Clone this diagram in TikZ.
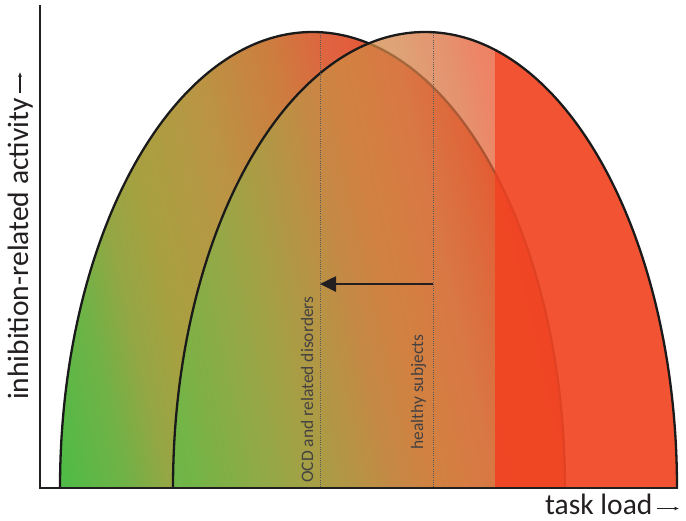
\documentclass[tikz,border=0pt]{standalone}
\usepackage{fontspec}
\setmainfont{Carlito}
\usetikzlibrary{arrows.meta}
\definecolor{txt}{HTML}{231F20}
\definecolor{dotgrey}{HTML}{5A5A5A}
\definecolor{bandred}{RGB}{240,70,36}
\definecolor{outline}{HTML}{1A1A1A}
\pgfdeclarehorizontalshading{leftshade}{100bp}{%
rgb(0bp)=(0.314,0.737,0.275);
rgb(28.75bp)=(0.314,0.733,0.275);
rgb(32.5bp)=(0.439,0.698,0.275);
rgb(35.19bp)=(0.588,0.651,0.267);
rgb(37.75bp)=(0.659,0.627,0.251);
rgb(42.25bp)=(0.725,0.588,0.267);
rgb(47.5bp)=(0.804,0.490,0.247);
rgb(51.25bp)=(0.878,0.384,0.247);
rgb(56.25bp)=(0.918,0.306,0.196);
rgb(60.63bp)=(0.933,0.263,0.137);
rgb(100bp)=(0.933,0.263,0.137)}
\pgfdeclarehorizontalshading{rightshade}{100bp}{%
rgb(0bp)=(0.353,0.745,0.282);
rgb(31.25bp)=(0.353,0.745,0.282);
rgb(36.75bp)=(0.392,0.737,0.290);
rgb(43.69bp)=(0.608,0.655,0.278);
rgb(49.13bp)=(0.761,0.565,0.282);
rgb(51.56bp)=(0.804,0.553,0.259);
rgb(55.19bp)=(0.830,0.520,0.290);
rgb(58.13bp)=(0.860,0.440,0.250);
rgb(60.25bp)=(0.910,0.360,0.200);
rgb(63.75bp)=(0.933,0.294,0.157);
rgb(100bp)=(0.933,0.294,0.157)}
\tikzset{
  archline/.style={draw=outline, line width=2.3pt},
  axisline/.style={draw=txt, line width=2.5pt},
  guide/.style={draw=dotgrey, line width=0.8pt, dash pattern=on 1pt off 1.2pt},
  shiftarrow/.style={draw=txt, line width=2.6pt, -{Triangle[length=16pt,width=15pt]}},
  smallarrow/.style={draw=txt, line width=1.1pt, -{Latex[length=4.5pt,width=4pt]}},
  biglabel/.style={font=\fontsize{29.5}{33}\selectfont, text=txt, inner sep=0pt},
  smalllabel/.style={font=\fontsize{17.5}{20}\selectfont, text=txt!85, inner sep=0pt, rotate=90, anchor=base west}
}
\begin{document}
\begin{tikzpicture}[x=1pt,y=-1pt]
\useasboundingbox[fill=white] (0,0) rectangle (686,520);
% left arch fill
\begin{scope}
  \clip (0,0) rectangle (686,488);
  \clip (312.5,488) ellipse [x radius=252.5, y radius=456];
  \shade[shading=leftshade, shading angle=13] (-40,-140) rectangle (760,660);
\end{scope}
% left arch outline
\begin{scope}
  \clip (0,0) rectangle (686,488);
  \draw[archline] (312.5,488) ellipse [x radius=252.5, y radius=456];
\end{scope}
% right arch fill (translucent gradient part)
\begin{scope}[fill opacity=0.75]
  \clip (0,0) rectangle (495,488);
  \clip (425,488) ellipse [x radius=252, y radius=456];
  \shade[shading=rightshade, shading angle=13] (-40,-140) rectangle (760,660);
\end{scope}
% right arch red band
\begin{scope}
  \clip (495,0) rectangle (686,488);
  \clip (425,488) ellipse [x radius=252, y radius=456];
  \fill[bandred, fill opacity=0.93] (495,0) rectangle (686,488);
\end{scope}
% right arch outline
\begin{scope}
  \clip (0,0) rectangle (686,488);
  \draw[archline] (425,488) ellipse [x radius=252, y radius=456];
\end{scope}
% guide lines
\coordinate (ocdtop) at (320,33);
\coordinate (ocdbot) at (320,488);
\coordinate (hstop) at (433.5,33);
\coordinate (hsbot) at (433.5,488);
\draw[guide] (ocdtop) -- (ocdbot);
\draw[guide] (hstop) -- (hsbot);
% shift arrow
\coordinate (hsarrow) at (433,284);
\coordinate (ocdarrow) at (320,284);
\draw[shiftarrow] (hsarrow) -- (ocdarrow);
% group labels
\node[smalllabel] (ocdlab) at (313,483) {OCD and related disorders};
\node[smalllabel] (hslab) at (423,450) {healthy subjects};
% axes
\coordinate (ytop) at (40,5);
\coordinate (origin) at (40,488);
\coordinate (xend) at (678,488);
\draw[axisline] (ytop) -- (origin) -- (xend);
% axis labels
\node[biglabel, rotate=90, anchor=base west] (ylab) at (28,400) {inhibition-related activity};
\coordinate (yarrs) at (20,93);
\coordinate (yarre) at (20,72);
\draw[smallarrow] (yarrs) -- (yarre);
\node[biglabel, anchor=base west] (xlab) at (545,514.5) {task load};
\coordinate (xarrs) at (657,508.5);
\coordinate (xarre) at (679,508.5);
\draw[smallarrow] (xarrs) -- (xarre);
\end{tikzpicture}
\end{document}
